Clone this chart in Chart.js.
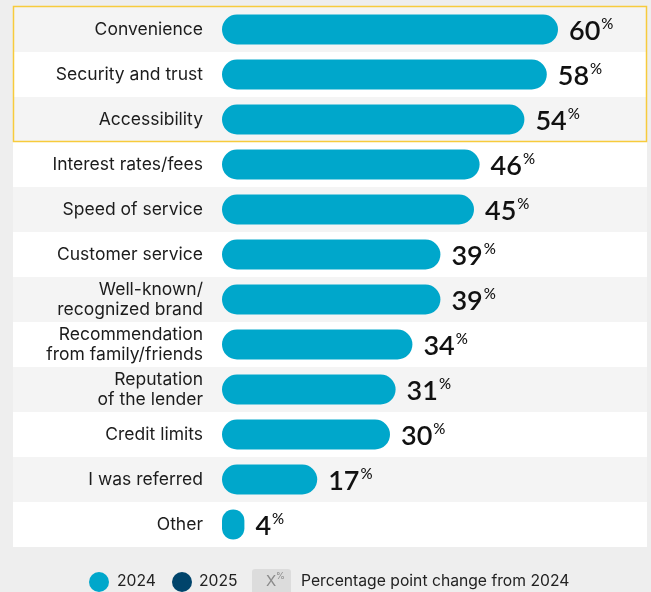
<!DOCTYPE html>
<html>
<head>
<meta charset="utf-8">
<script src="https://cdn.jsdelivr.net/npm/chart.js@4.4.1/dist/chart.umd.min.js"></script>
<style>
  html, body { margin: 0; padding: 0; background: #eeeeee; }
  body { width: 651px; height: 592px; position: relative; overflow: hidden; font-family: Inter, 'Noto Sans', sans-serif; }
  #wrap { position: absolute; left: 0; top: 0; width: 651px; height: 592px; }
  .legend { position: absolute; top: 569px; left: 0; width: 651px; height: 23px; font-size: 15.7px; color: #222; }
  .legend span { position: absolute; }
  .dot { width: 20px; height: 20px; border-radius: 50%; top: 3px; }
  .lbl { top: 2px; line-height: 20px; }
  .chg { left: 252px; top: 0; width: 39px; height: 26px; background: #dcdcdc; border-radius: 3px; }
  .chg i { position: absolute; left: 14px; top: 3px; font-style: normal; color: #8a8a8a; font-size: 15px; line-height: 18px; }
  .chg b { position: absolute; left: 24px; top: 2px; font-weight: normal; color: #8a8a8a; font-size: 9px; line-height: 10px; }
</style>
</head>
<body>
<div id="wrap"><canvas id="driversChart"></canvas></div>
<div class="legend">
  <span class="dot" style="left:89px;background:#00a7cb"></span>
  <span class="lbl" style="left:117px">2024</span>
  <span class="dot" style="left:172px;background:#00446b"></span>
  <span class="lbl" style="left:199px">2025</span>
  <span class="chg"><i>X</i><b>%</b></span>
  <span class="lbl" style="left:301px">Percentage point change from 2024</span>
</div>
<script>
// reasons for choosing a lender, share of respondents (%)
const categories = [
    'Convenience',
    'Security and trust',
    'Accessibility',
    'Interest rates/fees',
    'Speed of service',
    'Customer service',
    ['Well-known/', 'recognized brand'],
    ['Recommendation', 'from family/friends'],
    ['Reputation', 'of the lender'],
    'Credit limits',
    'I was referred',
    'Other'
];
const values2024 = [60, 58, 54, 46, 45, 39, 39, 34, 31, 30, 17, 4];
const highlightedRows = 3; // top three get the yellow frame

const BAR_COLOR = '#00a7cb';
const ROW_GRAY = '#f4f4f4';
const FRAME_COLOR = '#f7cb3c';

function rowHalf(y) {
    return (y.getPixelForValue(1) - y.getPixelForValue(0)) / 2;
}

// striped rows behind everything, yellow frame on top
const rowsPlugin = {
    id: 'rows',
    beforeDraw(chart) {
        const { ctx, scales: { y } } = chart;
        const left = 13, right = 647;
        const half = rowHalf(y);
        ctx.save();
        categories.forEach((c, i) => {
            const cy = y.getPixelForValue(i);
            ctx.fillStyle = i % 2 === 0 ? ROW_GRAY : '#ffffff';
            ctx.fillRect(left, cy - half, right - left, half * 2);
        });
        ctx.restore();
    },
    afterDraw(chart) {
        const { ctx, scales: { y } } = chart;
        const half = rowHalf(y);
        const top = y.getPixelForValue(0) - half;
        const bottom = y.getPixelForValue(highlightedRows - 1) + half;
        ctx.save();
        ctx.strokeStyle = FRAME_COLOR;
        ctx.lineWidth = 1.5;
        ctx.strokeRect(13.5, top - 0.5, 633, bottom - top);
        ctx.restore();
    }
};

// "60%" style labels at the end of each bar
const valueLabels = {
    id: 'valueLabels',
    afterDatasetsDraw(chart) {
        const { ctx } = chart;
        const meta = chart.getDatasetMeta(0);
        ctx.save();
        ctx.fillStyle = '#111';
        ctx.textBaseline = 'alphabetic';
        ctx.textAlign = 'left';
        meta.data.forEach((bar, i) => {
            const num = String(values2024[i]);
            const x = bar.x + 11;
            const base = bar.y + 10;
            ctx.font = '600 27px Lato, sans-serif';
            ctx.fillText(num, x, base);
            const w = ctx.measureText(num).width;
            ctx.font = '500 15px Lato, sans-serif';
            ctx.fillText('%', x + w + 1, base - 11);
        });
        ctx.restore();
    }
};

new Chart(document.getElementById('driversChart'), {
    type: 'bar',
    data: {
        labels: categories,
        datasets: [{
            label: '2024',
            data: values2024,
            backgroundColor: BAR_COLOR,
            borderRadius: 15,
            borderSkipped: false,
            barPercentage: 0.667,
            categoryPercentage: 1
        }]
    },
    options: {
        indexAxis: 'y',
        responsive: true,
        maintainAspectRatio: false,
        animation: false,
        layout: { padding: { top: 7, bottom: 45, left: 0, right: 9 } },
        plugins: {
            legend: { display: false },
            tooltip: { enabled: false }
        },
        scales: {
            x: {
                display: false,
                min: 0,
                max: 75
            },
            y: {
                grid: { display: false },
                border: { display: false },
                ticks: {
                    color: '#1c1c1c',
                    padding: 11,
                    font: { family: 'Inter', size: 17.5, lineHeight: 1.15 }
                },
                afterFit(scale) {
                    scale.width = 222;
                    scale.paddingTop = 0;
                    scale.paddingBottom = 0;
                }
            }
        }
    },
    plugins: [rowsPlugin, valueLabels]
});
</script>
</body>
</html>
